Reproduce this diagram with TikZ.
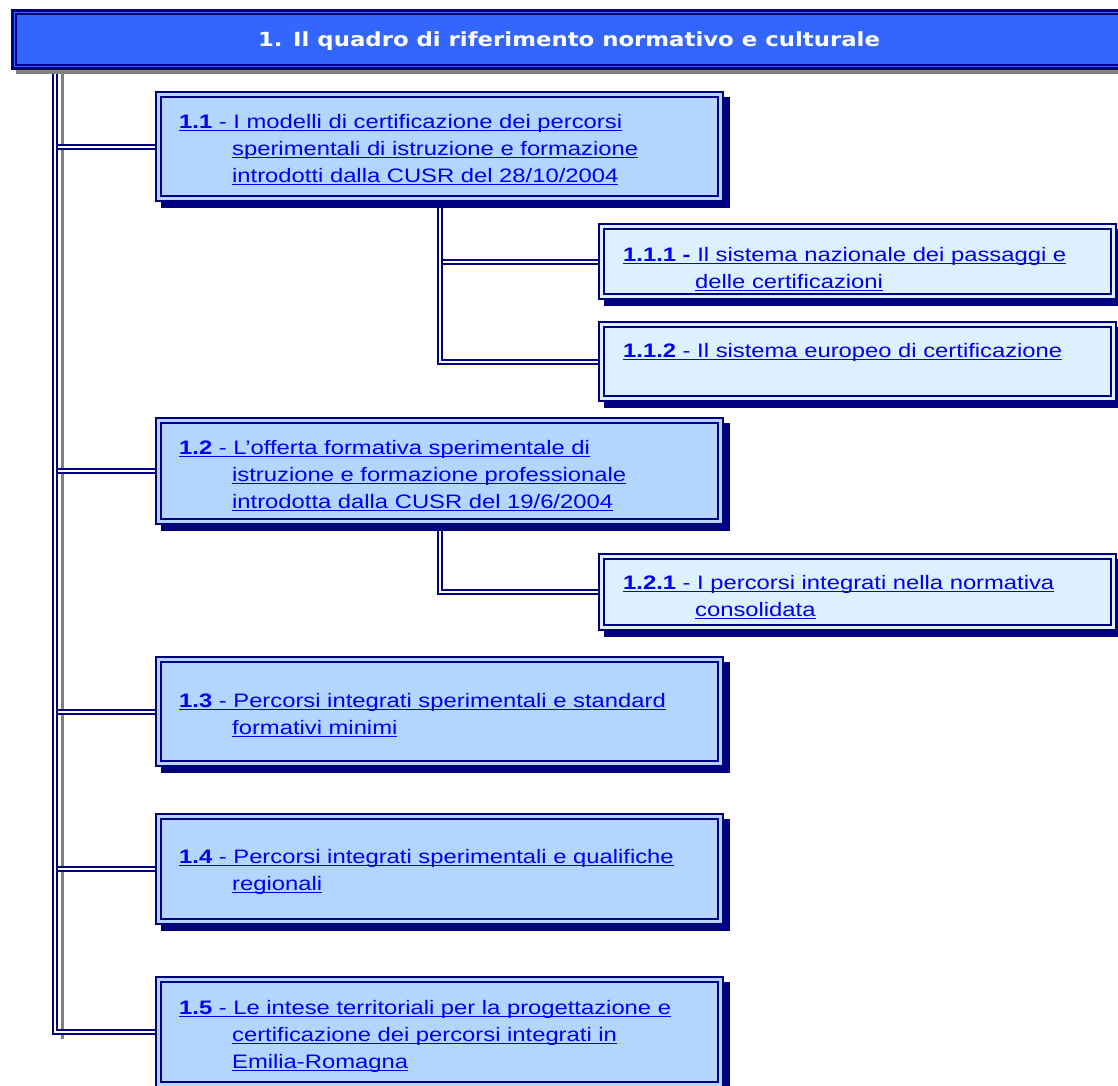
\documentclass[tikz,border=0pt]{standalone}
\usepackage{fontspec}
\setmainfont{Liberation Sans}[FakeStretch=1.22]
\newfontfamily\titlefont{DejaVu Sans}[FakeStretch=1.17]
\usetikzlibrary{backgrounds}
\definecolor{navy}{RGB}{0,0,128}
\definecolor{linkblue}{RGB}{0,0,240}
\definecolor{mainfill}{RGB}{179,213,255}
\definecolor{subfill}{RGB}{220,240,255}
\definecolor{titlefill}{RGB}{51,102,255}
\definecolor{shadowgray}{RGB}{128,128,128}
\newcommand\ulline[1]{\sbox0{#1}\rlap{\color{linkblue}\rule[-3pt]{\wd0}{1.4pt}}\usebox0}
\newcommand\ind{\hspace*{53pt}}
\newcommand\indb{\hspace*{72pt}}
% name, x1, y1, x2, y2, fill
\newcommand\mybox[6]{%
  \fill[navy] ({#2+6},{#3+6}) rectangle ({#4+6},{#5+6});
  \node[boxst, fill=#6, minimum width={#4-#2-2}, minimum height={#5-#3-2}, anchor=north west] (#1) at (#2,#3) {};
  \draw[navy, line width=2pt] ([shift={(6pt,-6pt)}]#1.north west) rectangle ([shift={(-6pt,6pt)}]#1.south east);
}
\tikzset{
  boxst/.style={draw=navy, line width=2pt, inner sep=0pt, rectangle},
  dbl/.style={draw=navy, line width=2pt, double=white, double distance=2pt},
  txt/.style={anchor=base west, inner sep=0pt, align=left, text=linkblue, font=\fontsize{19.5pt}{27pt}\selectfont},
}
\begin{document}
\begin{tikzpicture}[x=1pt, y=-1pt]
\clip (0,0) rectangle (1118,1085);

% title bar
\fill[shadowgray] (16,14) rectangle (1140,74);
\node[draw=navy, line width=3pt, fill=titlefill, inner sep=0pt, minimum width=1130, minimum height=58, anchor=north west] (title) at (11,9) {};
\draw[navy, line width=2pt] ([shift={(5pt,-5pt)}]title.north west) rectangle ([shift={(-5pt,5pt)}]title.south east);
\node[anchor=base, inner sep=0pt, text=white, font=\titlefont\bfseries\fontsize{19.5pt}{22pt}\selectfont] (ttext) at (569,46) {1. Il quadro di riferimento normativo e culturale};

% boxes
\mybox{b11}{155}{91}{724}{202}{mainfill}
\mybox{b111}{598}{223}{1117}{300}{subfill}
\mybox{b112}{598}{321}{1117}{402}{subfill}
\mybox{b12}{155}{417}{724}{525}{mainfill}
\mybox{b121}{598}{553}{1117}{631}{subfill}
\mybox{b13}{155}{656}{724}{767}{mainfill}
\mybox{b14}{155}{813}{724}{925}{mainfill}
\mybox{b15}{155}{976}{724}{1088}{mainfill}

% texts (anchor = baseline of the last line)
\node[txt] (t11) at (179,182) {\ulline{\textbf{1.1} - I modelli di certificazione dei percorsi}\\
\ind\ulline{sperimentali di istruzione e formazione}\\
\ind\ulline{introdotti dalla CUSR del 28/10/2004}};
\node[txt] (t111) at (623,288) {\ulline{\textbf{1.1.1 -} Il sistema nazionale dei passaggi e}\\
\indb\ulline{delle certificazioni}};
\node[txt] (t112) at (623,357) {\ulline{\textbf{1.1.2} - Il sistema europeo di certificazione}};
\node[txt] (t12) at (179,508) {\ulline{\textbf{1.2} - L’offerta formativa sperimentale di}\\
\ind\ulline{istruzione e formazione professionale}\\
\ind\ulline{introdotta dalla CUSR del 19/6/2004}};
\node[txt] (t121) at (623,616) {\ulline{\textbf{1.2.1} - I percorsi integrati nella normativa}\\
\indb\ulline{consolidata}};
\node[txt] (t13) at (179,734) {\ulline{\textbf{1.3} - Percorsi integrati sperimentali e standard}\\
\ind\ulline{formativi minimi}};
\node[txt] (t14) at (179,890) {\ulline{\textbf{1.4} - Percorsi integrati sperimentali e qualifiche}\\
\ind\ulline{regionali}};
\node[txt] (t15) at (179,1068) {\ulline{\textbf{1.5} - Le intese territoriali per la progettazione e}\\
\ind\ulline{certificazione dei percorsi integrati in}\\
\ind\ulline{Emilia-Romagna}};

% connectors
\begin{pgfonlayer}{background}
\coordinate (t0) at (55,69);
\coordinate (g0) at (62,74);
\coordinate (g1) at (62,1039);
\draw[shadowgray, line width=3pt] (g0) -- (g1);
\foreach \b in {b11,b12,b13,b14} \draw[dbl] (\b.west -| t0) -- (\b.west);
\draw[dbl] (t0) |- (b15.west);
\coordinate (s1) at (440,208);
\draw[dbl] (b111.west -| s1) -- (b111.west);
\draw[dbl] (s1) |- (b112.west);
\coordinate (s2) at (440,531);
\draw[dbl] (s2) |- (b121.west);
\end{pgfonlayer}
\end{tikzpicture}
\end{document}
